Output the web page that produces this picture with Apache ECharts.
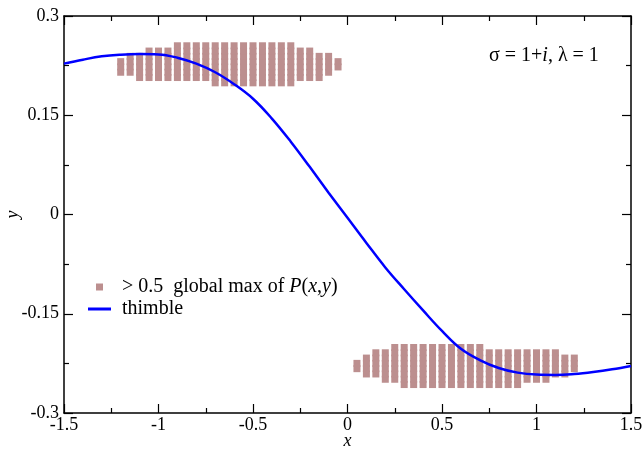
<!DOCTYPE html>
<html>
<head>
<meta charset="utf-8">
<script src="https://cdn.jsdelivr.net/npm/echarts@6/dist/echarts.min.js"></script>
<style>
html,body{margin:0;padding:0;background:#fff;}
#chart{width:644px;height:452px;}
</style>
</head>
<body>
<div id="chart"></div>
<script>
// ---- data ----
const xTicks = [-1.5, -1, -0.5, 0, 0.5, 1, 1.5];
const yTicks = [-0.3, -0.15, 0, 0.15, 0.3];

// grid of points with P > 0.5 of global max: column x, lowest and highest y of each column
const gridStepY = 0.008;
const upperColX = [-1.2,-1.15,-1.1,-1.05,-1.0,-0.95,-0.9,-0.85,-0.8,-0.75,-0.7,-0.65,-0.6,-0.55,-0.5,-0.45,-0.4,-0.35,-0.3,-0.25,-0.2,-0.15,-0.1,-0.05];
const upperColYMin = [0.215,0.215,0.207,0.207,0.207,0.207,0.207,0.207,0.207,0.207,0.199,0.199,0.199,0.199,0.199,0.199,0.199,0.199,0.199,0.207,0.207,0.207,0.215,0.223];
const upperColYMax = [0.231,0.239,0.239,0.247,0.247,0.247,0.255,0.255,0.255,0.255,0.255,0.255,0.255,0.255,0.255,0.255,0.255,0.255,0.255,0.247,0.247,0.239,0.239,0.231];

const lowerColX = [0.05,0.1,0.15,0.2,0.25,0.3,0.35,0.4,0.45,0.5,0.55,0.6,0.65,0.7,0.75,0.8,0.85,0.9,0.95,1.0,1.05,1.1,1.15,1.2];
const lowerColYMin = [-0.233,-0.241,-0.241,-0.249,-0.249,-0.257,-0.257,-0.257,-0.257,-0.257,-0.257,-0.257,-0.257,-0.257,-0.257,-0.257,-0.257,-0.257,-0.249,-0.249,-0.249,-0.241,-0.241,-0.233];
const lowerColYMax = [-0.225,-0.217,-0.209,-0.209,-0.201,-0.201,-0.201,-0.201,-0.201,-0.201,-0.201,-0.201,-0.201,-0.201,-0.209,-0.209,-0.209,-0.209,-0.209,-0.209,-0.209,-0.209,-0.217,-0.217];

// thimble curve
const thimbleX = [-1.5,-1.4,-1.3,-1.2,-1.1,-1.0,-0.9,-0.8,-0.7,-0.6,-0.5,-0.4,-0.3,-0.2,-0.1,0,0.1,0.2,0.3,0.4,0.5,0.6,0.7,0.8,0.9,1.0,1.1,1.2,1.3,1.4,1.5];
const thimbleY = [0.228,0.234,0.239,0.2415,0.2425,0.242,0.237,0.228,0.215,0.197,0.175,0.145,0.11,0.072,0.033,-0.005,-0.043,-0.08,-0.113,-0.145,-0.176,-0.203,-0.22,-0.232,-0.239,-0.242,-0.2425,-0.241,-0.238,-0.234,-0.229];

// ---- build series data ----
function columnsToPoints(xs, ymins, ymaxs) {
  const pts = [];
  for (let i = 0; i < xs.length; i++) {
    const n = Math.round((ymaxs[i] - ymins[i]) / gridStepY);
    for (let k = 0; k <= n; k++) pts.push([xs[i], +(ymins[i] + k * gridStepY).toFixed(4)]);
  }
  return pts;
}
const scatterData = columnsToPoints(upperColX, upperColYMin, upperColYMax)
  .concat(columnsToPoints(lowerColX, lowerColYMin, lowerColYMax));
const lineData = thimbleX.map((x, i) => [x, thimbleY[i]]);

const FONT = "'Liberation Serif', 'Times New Roman', serif";
const FS = 18;
const LFS = 20;
const SCATTER_NAME = '> 0.5  global max of P(x,y)';

const chart = echarts.init(document.getElementById('chart'), null, {renderer: 'canvas'});
const axisCommon = {
  type: 'value',
  axisLine: {show: true, onZero: false, lineStyle: {color: '#000', width: 1.5}},
  axisTick: {show: true, inside: true, length: 9, lineStyle: {color: '#000', width: 1.2}},
  minorTick: {show: true, splitNumber: 2, length: 5, lineStyle: {color: '#000', width: 1.2}},
  splitLine: {show: false},
  minorSplitLine: {show: false}
};
const labelStyle = {color: '#000', fontFamily: FONT, fontSize: FS};
function fmt(v) { const r = Math.round(v * 1000) / 1000; return String(r === 0 ? 0 : r); }

chart.setOption({
  animation: false,
  backgroundColor: '#fff',
  grid: {left: 64, right: 13, top: 16, bottom: 39, containLabel: false, outerBoundsMode: 'none'},
  xAxis: [
    Object.assign({}, axisCommon, {
      min: xTicks[0], max: xTicks[xTicks.length - 1], interval: 0.5, position: 'bottom',
      axisLabel: Object.assign({}, labelStyle, {margin: 3, formatter: fmt, showMinLabel: true, showMaxLabel: true}),
      name: 'x', nameLocation: 'middle', nameGap: 19, nameMoveOverlap: false,
      nameTextStyle: {color: '#000', fontFamily: FONT, fontSize: FS, fontStyle: 'italic'}
    }),
    Object.assign({}, axisCommon, {
      min: xTicks[0], max: xTicks[xTicks.length - 1], interval: 0.5, position: 'top',
      axisLabel: {show: false}
    })
  ],
  yAxis: [
    Object.assign({}, axisCommon, {
      min: yTicks[0], max: yTicks[yTicks.length - 1], interval: 0.15, position: 'left',
      axisLabel: Object.assign({}, labelStyle, {margin: 5, formatter: fmt, showMinLabel: true, showMaxLabel: true}),
      name: 'y', nameLocation: 'middle', nameGap: 42, nameRotate: 90, nameMoveOverlap: false,
      nameTextStyle: {color: '#000', fontFamily: FONT, fontSize: FS, fontStyle: 'italic'}
    }),
    Object.assign({}, axisCommon, {
      min: yTicks[0], max: yTicks[yTicks.length - 1], interval: 0.15, position: 'right',
      axisLabel: {show: false}
    })
  ],
  legend: [
    {
      data: [SCATTER_NAME], left: 96, top: 277, orient: 'vertical',
      itemWidth: 7, itemHeight: 7, padding: 0,
      textStyle: {color: '#000', fontFamily: FONT, fontSize: LFS, padding: [0, 0, 0, 14],
        rich: {n: {fontFamily: FONT, fontSize: LFS, color: '#000'}, i: {fontFamily: FONT, fontSize: LFS, color: '#000', fontStyle: 'italic'}}},
      formatter: function () { return '{n|> 0.5  global max of }{i|P}{n|(}{i|x}{n|,}{i|y}{n|)}'; }
    },
    {
      data: [{name: 'thimble', icon: 'rect'}], left: 88, top: 299, orient: 'vertical',
      itemWidth: 23, itemHeight: 3, padding: 0,
      textStyle: {color: '#000', fontFamily: FONT, fontSize: LFS, padding: [0, 0, 0, 6]}
    }
  ],
  graphic: [
    {
      type: 'text', left: 489, top: 46, silent: true,
      style: {
        text: '{n|σ = 1+}{i|i}{n|, λ = 1}',
        rich: {n: {fontFamily: FONT, fontSize: 20, fill: '#000'}, i: {fontFamily: FONT, fontSize: 20, fill: '#000', fontStyle: 'italic'}}
      }
    }
  ],
  series: [
    {
      name: SCATTER_NAME, type: 'scatter', xAxisIndex: 0, yAxisIndex: 0,
      symbol: 'rect', symbolSize: [7, 7],
      itemStyle: {color: '#bc8f8f', opacity: 1},
      data: scatterData, z: 2
    },
    {
      name: 'thimble', type: 'line', xAxisIndex: 0, yAxisIndex: 0,
      smooth: 0.4, symbol: 'none', showSymbol: false,
      lineStyle: {color: '#0000ff', width: 2.5},
      itemStyle: {color: '#0000ff'},
      data: lineData, z: 3
    }
  ]
});
</script>
</body>
</html>
